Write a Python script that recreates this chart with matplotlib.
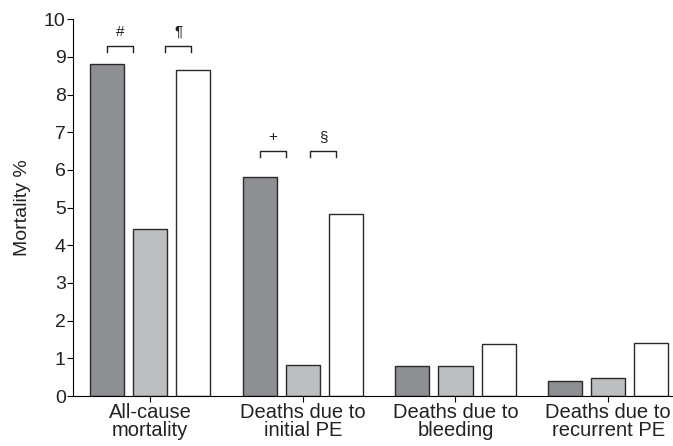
import matplotlib.pyplot as plt
import numpy as np

plt.rcParams["font.family"] = ["Liberation Sans", "DejaVu Sans"]

CATEGORIES = ["All-cause\nmortality", "Deaths due to\ninitial PE",
              "Deaths due to\nbleeding", "Deaths due to\nrecurrent PE"]
DARK = [8.8, 5.82, 0.8, 0.4]
LIGHT = [4.42, 0.82, 0.8, 0.47]
WHITE = [8.65, 4.82, 1.37, 1.4]

# significance brackets: (group index, left offset, right offset, height, label)
BRACKETS = [
    (0, -0.28, -0.11, 9.28, "#"),
    (0, 0.10, 0.27, 9.28, "\u00b6"),
    (1, -0.28, -0.11, 6.50, "+"),
    (1, 0.05, 0.22, 6.50, "\u00a7"),
]


def main():
    fig = plt.figure(figsize=(6.73, 4.46), dpi=100)
    ax = fig.add_axes([0.108, 0.112, 0.892, 0.845])

    x = np.arange(len(CATEGORIES))
    step = 0.282
    width = 0.223
    edge = "#2a2a2a"
    for vals, off, col in [(DARK, -step, "#8e8f93"), (LIGHT, 0, "#bdbec0"), (WHITE, step, "white")]:
        ax.bar(x + off, vals, width, color=col, edgecolor=edge, linewidth=1.0)

    for g, lo, hi, h, lab in BRACKETS:
        d = 0.16
        ax.plot([g + lo, g + lo, g + hi, g + hi], [h - d, h, h, h - d],
                color="#222222", lw=1.0)
        ax.text(g + (lo + hi) / 2, h + 0.2, lab, ha="center", va="bottom",
                fontsize=11, color="#222222")

    ax.set_xlim(-0.508, 3.425)
    ax.set_ylim(0, 10)
    ax.set_yticks(range(0, 11))
    ax.set_xticks(x)
    ax.set_xticklabels(CATEGORIES, fontsize=14.5, linespacing=0.92, color="#222222")
    ax.tick_params(axis="y", labelsize=14, length=4, width=0.8, pad=1, labelcolor="#222222")
    ax.tick_params(axis="x", length=4, width=0.8, pad=1)
    ax.set_ylabel("Mortality %", fontsize=14, labelpad=9, color="#222222")
    for s in ["top", "right"]:
        ax.spines[s].set_visible(False)
    for s in ["left", "bottom"]:
        ax.spines[s].set_linewidth(0.8)

    fig.savefig("out.png", dpi=100)


if __name__ == "__main__":
    main()
